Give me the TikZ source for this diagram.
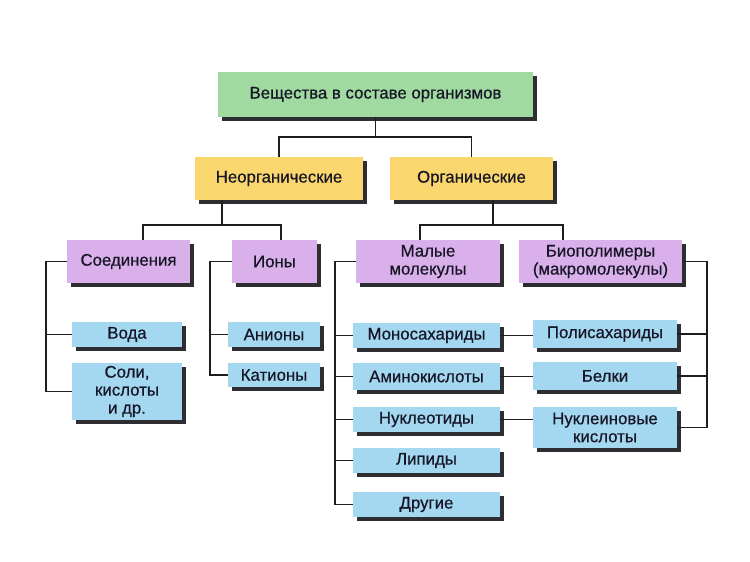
\documentclass[tikz,border=0pt]{standalone}
\usepackage{fontspec}
\setmainfont{Liberation Sans}[RawFeature={embolden=0.6}]
\usetikzlibrary{shadows}
\definecolor{cgreen}{RGB}{160,218,160}
\definecolor{cyellow}{RGB}{250,214,110}
\definecolor{cpurple}{RGB}{218,176,234}
\definecolor{cblue}{RGB}{164,216,240}
\definecolor{ctext}{RGB}{22,22,38}
\definecolor{cshadow}{RGB}{45,45,50}
\definecolor{cline}{RGB}{30,30,30}
\newcommand\mybox[7]{%
  \node[box, fill=#6, minimum width={#4-#2}, minimum height={#5-#3}]
    (#1) at ({(#2+#4)/2},{(#3+#5)/2}) {#7};}
\begin{document}
\begin{tikzpicture}[x=1pt,y=-1pt,
  box/.style={draw=none, inner sep=0pt, align=center, text=ctext,
    font=\fontsize{16.8}{18}\selectfont,
    general shadow={fill=cshadow, shadow xshift=4pt, shadow yshift=-4pt}},
  link/.style={line width=1.4pt, draw=cline}]
\useasboundingbox[fill=white] (0,0) rectangle (750,562);
% boxes
\mybox{top}{218}{72}{533}{117}{cgreen}{Вещества в составе организмов}
\mybox{inorg}{195}{157}{363}{200}{cyellow}{Неорганические}
\mybox{org}{390}{157}{553}{200}{cyellow}{Органические}
\mybox{soed}{67}{240}{190}{283}{cpurple}{Соединения}
\mybox{iony}{232}{240}{317}{283}{cpurple}{Ионы}
\mybox{maly}{356}{240}{500}{283}{cpurple}{Малые\\молекулы}
\mybox{bio}{519}{240}{682}{283}{cpurple}{Биополимеры\\(макромолекулы)}
\mybox{voda}{72}{322}{182}{347}{cblue}{Вода}
\mybox{soli}{72}{363}{182}{420}{cblue}{Соли,\\кислоты\\и др.}
\mybox{anion}{228}{322}{320}{347}{cblue}{Анионы}
\mybox{kation}{228}{363}{320}{387}{cblue}{Катионы}
\mybox{mono}{353}{323}{500}{348}{cblue}{Моносахариды}
\mybox{amino}{353}{363}{500}{390}{cblue}{Аминокислоты}
\mybox{nukl}{353}{407}{500}{432}{cblue}{Нуклеотиды}
\mybox{lip}{353}{448}{500}{473}{cblue}{Липиды}
\mybox{dr}{353}{492}{500}{517}{cblue}{Другие}
\mybox{poly}{533}{320}{677}{348}{cblue}{Полисахариды}
\mybox{belk}{533}{362}{677}{390}{cblue}{Белки}
\mybox{nukk}{533}{407}{677}{448}{cblue}{Нуклеиновые\\кислоты}
% junction coordinates
\coordinate (j1) at (375.5,137);
\coordinate (j2) at (222,225);
\coordinate (j3) at (493,225);
\coordinate (t1) at (143,0);
\coordinate (t2) at (281,0);
\coordinate (t3) at (420,0);
\coordinate (t4) at (563,0);
\coordinate (s1) at (46,0);
\coordinate (s2) at (210,0);
\coordinate (s3) at (335,0);
\coordinate (s4) at (707,0);
% top level
\draw[link] (top.south) -- (j1);
\draw[link] (inorg.north) |- (j1) -| (org.north);
% inorganic
\draw[link] (inorg.south -| j2) -- (j2);
\draw[link] (soed.north -| t1) |- (j2) -| (iony.north -| t2);
% organic
\draw[link] (org.south -| j3) -- (j3);
\draw[link] (maly.north -| t3) |- (j3) -| (bio.north -| t4);
% compounds
\draw[link] (soed.west) -| (s1 |- soli.west) -- (soli.west);
\draw[link] (s1 |- voda.west) -- (voda.west);
% ions
\draw[link] (iony.west) -| (s2 |- kation.west) -- (kation.west);
\draw[link] (s2 |- anion.west) -- (anion.west);
% small molecules
\draw[link] (maly.west) -| (s3 |- dr.west) -- (dr.west);
\draw[link] (s3 |- mono.west) -- (mono.west);
\draw[link] (s3 |- amino.west) -- (amino.west);
\draw[link] (s3 |- nukl.west) -- (nukl.west);
\draw[link] (s3 |- lip.west) -- (lip.west);
% biopolymers
\draw[link] (bio.east) -| (s4 |- nukk.east) -- (nukk.east);
\draw[link] (s4 |- poly.east) -- (poly.east);
\draw[link] (s4 |- belk.east) -- (belk.east);
% small to big
\draw[link] (mono.east) -- (mono.east -| poly.west);
\draw[link] (amino.east) -- (amino.east -| belk.west);
\draw[link] (nukl.east) -- (nukl.east -| nukk.west);
\end{tikzpicture}
\end{document}
